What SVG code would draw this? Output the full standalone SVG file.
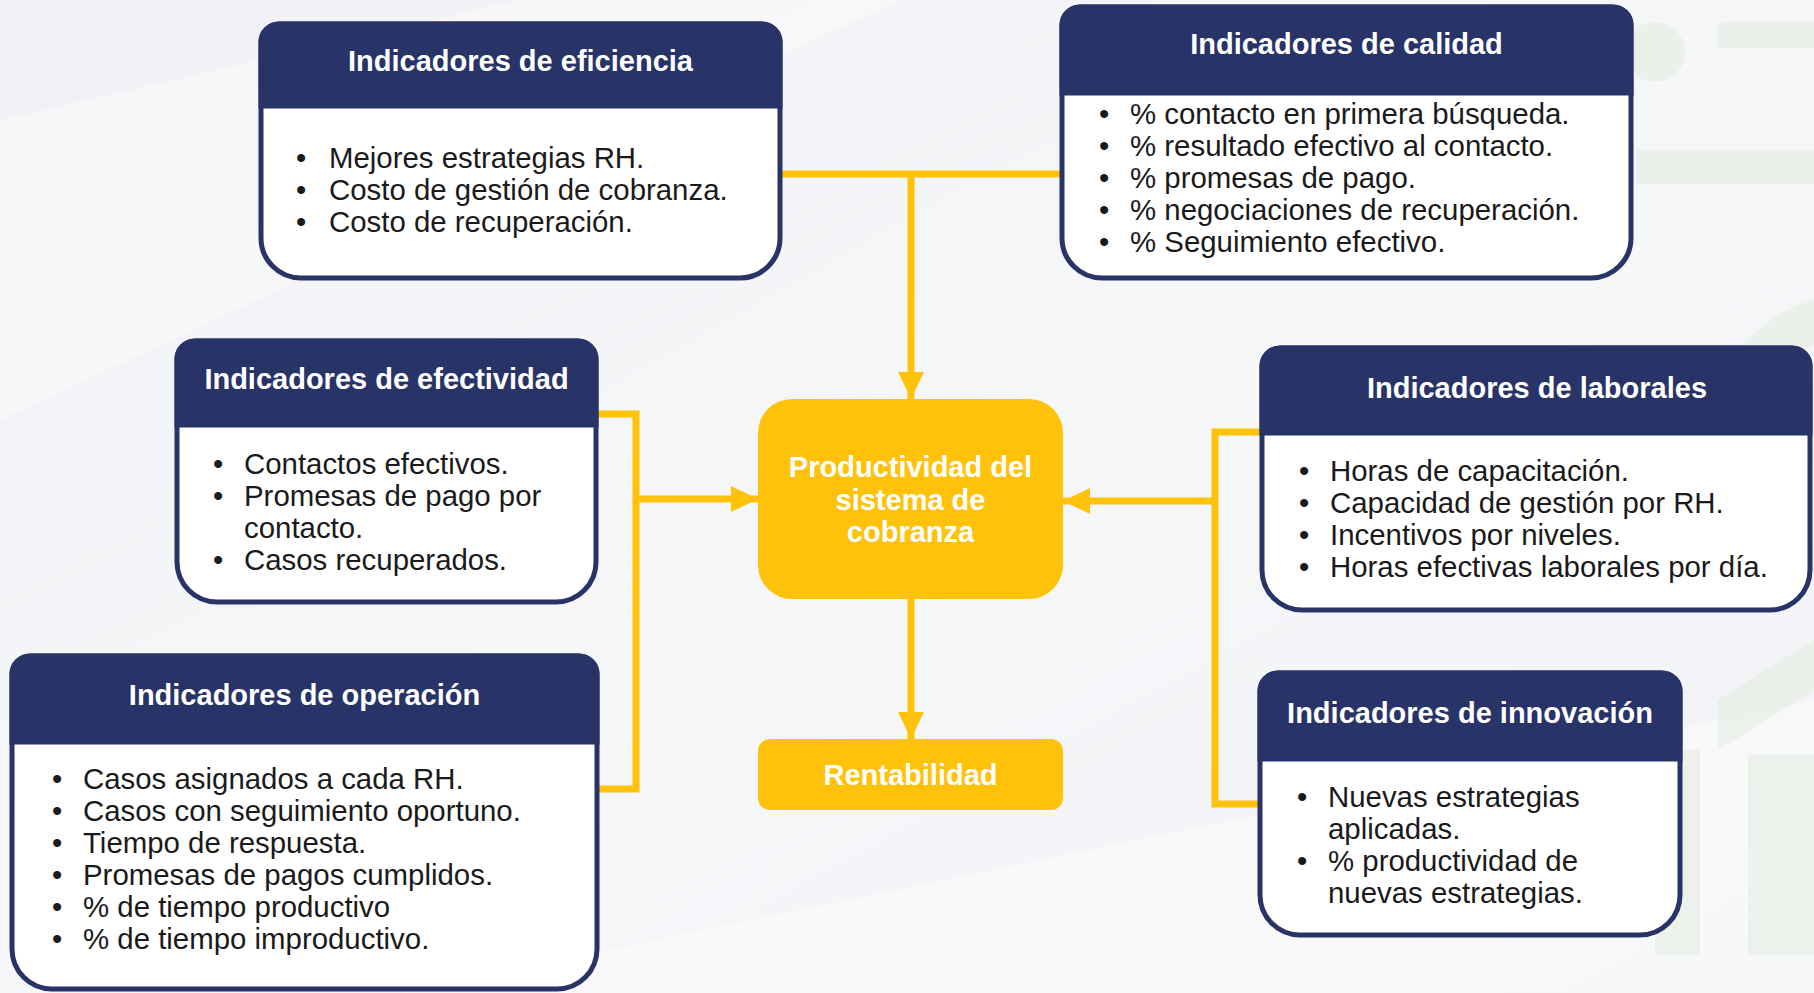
<svg xmlns="http://www.w3.org/2000/svg" width="1814" height="993" viewBox="0 0 1814 993">
<style>
.box{fill:#ffffff;stroke:#283368;stroke-width:5}
.hdr{fill:#283368;stroke:#283368;stroke-width:5}
.ttl{font-family:"Liberation Sans",Arial,sans-serif;font-weight:bold;font-size:29px;fill:#ffffff;text-anchor:middle}
.bd{font-family:"Liberation Sans",Arial,sans-serif;font-size:29.4px;fill:#1a1a1a}
.con{fill:none;stroke:#FFC20A;stroke-width:7}
.yb{fill:#FFC20A}
.deco{fill:#e3ebe0;opacity:0.55}
</style>
<defs>
<marker id="ah" markerUnits="userSpaceOnUse" viewBox="0 0 27 26" markerWidth="27" markerHeight="26" refX="27" refY="13" orient="auto">
<path d="M0,0 L27,13 L0,26 Z" fill="#FFC20A"/>
</marker>
<linearGradient id="bg" x1="0" y1="0" x2="1" y2="1">
<stop offset="0" stop-color="#f0f1f4"/>
<stop offset="0.5" stop-color="#f6f7f9"/>
<stop offset="1" stop-color="#f1f2f5"/>
</linearGradient>
</defs>
<rect width="1814" height="993" fill="url(#bg)"/>
<g id="background">
<polygon points="0,120 520,0 900,0 0,420" fill="#ffffff" opacity="0.35"/>
<polygon points="400,993 1814,700 1814,993" fill="#ffffff" opacity="0.4"/>
<rect class="deco" x="1718" y="22" width="96" height="26"/>
<rect class="deco" x="1637" y="150" width="177" height="34"/>
<circle class="deco" cx="1655" cy="52" r="30"/>
<path d="M1814,300 A135,135 0 0 0 1714,420 L1760,420 A90,90 0 0 1 1814,345 Z" class="deco"/>
<polygon points="1718,700 1814,640 1814,690 1718,750" class="deco"/>
<rect class="deco" x="1655" y="750" width="45" height="205"/>
<rect class="deco" x="1748" y="755" width="66" height="200"/>
</g>
<g id="connectors">
<path class="con" d="M780,174 H1062"/>
<path class="con" d="M911,175 V399" marker-end="url(#ah)"/>
<path class="con" d="M596,414 H636 V789 H597"/>
<path class="con" d="M636,499 H758" marker-end="url(#ah)"/>
<path class="con" d="M1262,432 H1215 V804 H1260"/>
<path class="con" d="M1215,501 H1063" marker-end="url(#ah)"/>
<path class="con" d="M911,599 V739" marker-end="url(#ah)"/>
</g>
<g id="eficiencia" transform="translate(261,24)">
<path class="box" d="M18,0 H501 A18,18 0 0 1 519,18 V214 A40,40 0 0 1 479,254 H40 A40,40 0 0 1 0,214 V18 A18,18 0 0 1 18,0 Z"/>
<path class="hdr" d="M0,82 V18 A18,18 0 0 1 18,0 H501 A18,18 0 0 1 519,18 V82 Z"/>
<text class="ttl" x="259.5" y="47">Indicadores de eficiencia</text>
<text class="bd" x="35" y="144">•</text><text class="bd" x="68" y="144">Mejores estrategias RH.</text>
<text class="bd" x="35" y="176">•</text><text class="bd" x="68" y="176">Costo de gestión de cobranza.</text>
<text class="bd" x="35" y="208">•</text><text class="bd" x="68" y="208">Costo de recuperación.</text>
</g>
<g id="calidad" transform="translate(1062,7)">
<path class="box" d="M18,0 H551 A18,18 0 0 1 569,18 V231 A40,40 0 0 1 529,271 H40 A40,40 0 0 1 0,231 V18 A18,18 0 0 1 18,0 Z"/>
<path class="hdr" d="M0,86 V18 A18,18 0 0 1 18,0 H551 A18,18 0 0 1 569,18 V86 Z"/>
<text class="ttl" x="284.5" y="47">Indicadores de calidad</text>
<text class="bd" x="37" y="117">•</text><text class="bd" x="68" y="117">% contacto en primera búsqueda.</text>
<text class="bd" x="37" y="149">•</text><text class="bd" x="68" y="149">% resultado efectivo al contacto.</text>
<text class="bd" x="37" y="181">•</text><text class="bd" x="68" y="181">% promesas de pago.</text>
<text class="bd" x="37" y="213">•</text><text class="bd" x="68" y="213">% negociaciones de recuperación.</text>
<text class="bd" x="37" y="245">•</text><text class="bd" x="68" y="245">% Seguimiento efectivo.</text>
</g>
<g id="efectividad" transform="translate(177,341)">
<path class="box" d="M18,0 H401 A18,18 0 0 1 419,18 V221 A40,40 0 0 1 379,261 H40 A40,40 0 0 1 0,221 V18 A18,18 0 0 1 18,0 Z"/>
<path class="hdr" d="M0,84 V18 A18,18 0 0 1 18,0 H401 A18,18 0 0 1 419,18 V84 Z"/>
<text class="ttl" x="209.5" y="48">Indicadores de efectividad</text>
<text class="bd" x="36" y="133">•</text><text class="bd" x="67" y="133">Contactos efectivos.</text>
<text class="bd" x="36" y="165">•</text><text class="bd" x="67" y="165">Promesas de pago por</text>
<text class="bd" x="67" y="197">contacto.</text>
<text class="bd" x="36" y="229">•</text><text class="bd" x="67" y="229">Casos recuperados.</text>
</g>
<g id="operacion" transform="translate(12,656)">
<path class="box" d="M18,0 H567 A18,18 0 0 1 585,18 V293 A40,40 0 0 1 545,333 H40 A40,40 0 0 1 0,293 V18 A18,18 0 0 1 18,0 Z"/>
<path class="hdr" d="M0,86 V18 A18,18 0 0 1 18,0 H567 A18,18 0 0 1 585,18 V86 Z"/>
<text class="ttl" x="292.5" y="49">Indicadores de operación</text>
<text class="bd" x="40" y="133">•</text><text class="bd" x="71" y="133">Casos asignados a cada RH.</text>
<text class="bd" x="40" y="165">•</text><text class="bd" x="71" y="165">Casos con seguimiento oportuno.</text>
<text class="bd" x="40" y="197">•</text><text class="bd" x="71" y="197">Tiempo de respuesta.</text>
<text class="bd" x="40" y="229">•</text><text class="bd" x="71" y="229">Promesas de pagos cumplidos.</text>
<text class="bd" x="40" y="261">•</text><text class="bd" x="71" y="261">% de tiempo productivo</text>
<text class="bd" x="40" y="293">•</text><text class="bd" x="71" y="293">% de tiempo improductivo.</text>
</g>
<g id="laborales" transform="translate(1262,348)">
<path class="box" d="M18,0 H530 A18,18 0 0 1 548,18 V222 A40,40 0 0 1 508,262 H40 A40,40 0 0 1 0,222 V18 A18,18 0 0 1 18,0 Z"/>
<path class="hdr" d="M0,85 V18 A18,18 0 0 1 18,0 H530 A18,18 0 0 1 548,18 V85 Z"/>
<text class="ttl" x="275" y="50">Indicadores de laborales</text>
<text class="bd" x="37" y="133">•</text><text class="bd" x="68" y="133">Horas de capacitación.</text>
<text class="bd" x="37" y="165">•</text><text class="bd" x="68" y="165">Capacidad de gestión por RH.</text>
<text class="bd" x="37" y="197">•</text><text class="bd" x="68" y="197">Incentivos por niveles.</text>
<text class="bd" x="37" y="229">•</text><text class="bd" x="68" y="229">Horas efectivas laborales por día.</text>
</g>
<g id="innovacion" transform="translate(1260,673)">
<path class="box" d="M18,0 H402 A18,18 0 0 1 420,18 V222 A40,40 0 0 1 380,262 H40 A40,40 0 0 1 0,222 V18 A18,18 0 0 1 18,0 Z"/>
<path class="hdr" d="M0,86 V18 A18,18 0 0 1 18,0 H402 A18,18 0 0 1 420,18 V86 Z"/>
<text class="ttl" x="210" y="50">Indicadores de innovación</text>
<text class="bd" x="37" y="134">•</text><text class="bd" x="68" y="134">Nuevas estrategias</text>
<text class="bd" x="68" y="166">aplicadas.</text>
<text class="bd" x="37" y="198">•</text><text class="bd" x="68" y="198">% productividad de</text>
<text class="bd" x="68" y="230">nuevas estrategias.</text>
</g>
<g id="productividad">
<rect class="yb" x="758" y="399" width="305" height="200" rx="34"/>
<text class="ttl" x="910.5" y="477">Productividad del</text>
<text class="ttl" x="910.5" y="510">sistema de</text>
<text class="ttl" x="910.5" y="542">cobranza</text>
</g>
<g id="rentabilidad">
<rect class="yb" x="758" y="739" width="305" height="71" rx="12"/>
<text class="ttl" x="910.5" y="785">Rentabilidad</text>
</g>
</svg>
